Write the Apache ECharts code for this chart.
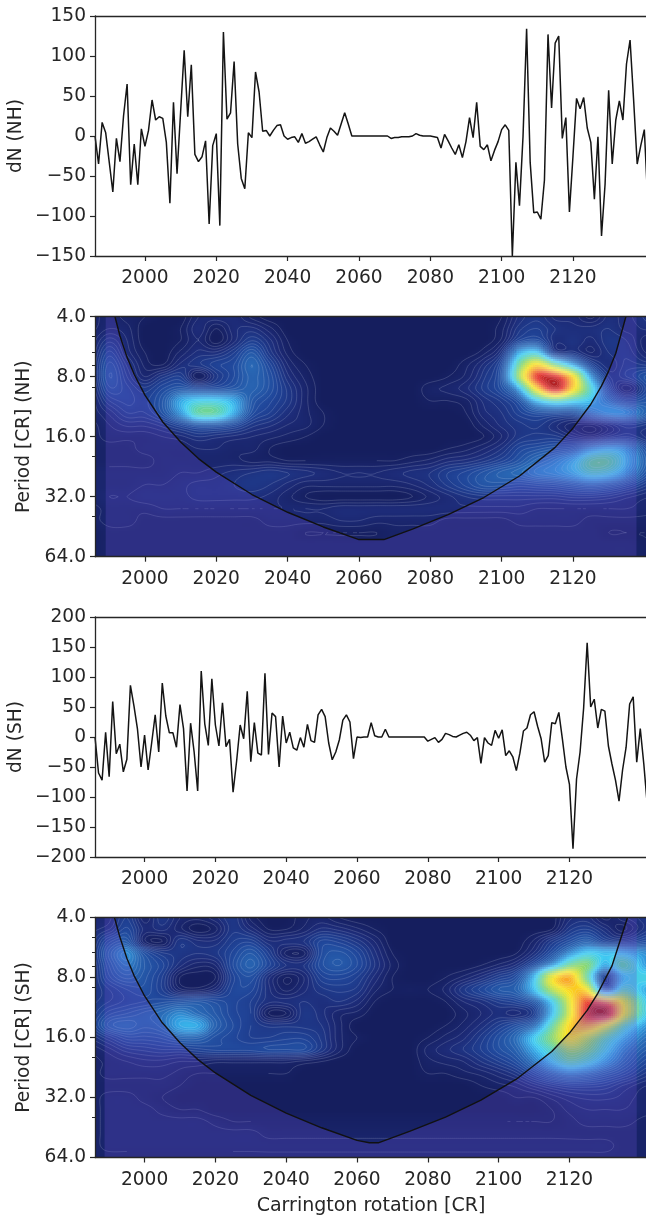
<!DOCTYPE html>
<html>
<head>
<meta charset="utf-8">
<style>html,body{margin:0;padding:0;background:#fff;overflow:hidden}#c{width:646px;height:1215px}</style>
<script src="https://cdn.jsdelivr.net/npm/echarts@6/dist/echarts.min.js"></script>
</head>
<body>
<div id="c"></div>
<script>
// Series values, one per Carrington rotation from 1986
const startCR = 1986;
const dnNH = [0,-35,17,4,-33,-70,-3,-32,25,65,-61,-10,-61,9,-13,7,45,20,24,22,-8,-84,42,-47,30,107,24,89,-23,-32,-26,-6,-110,-12,3,-112,130,21,29,93,-10,-53,-66,4,-2,80,55,6,7,0,7,13,14,0,-4,-2,-1,-8,3,-9,-7,-4,-1,-11,-20,-2,10,6,1,15,29,15,0,0,0,0,0,0,0,0,0,0,0,-3,-2,-2,-1,-1,-1,0,3,1,0,0,0,-1,-2,-15,2,-6,-15,-23,-11,-27,-7,23,-2,42,-13,-17,-11,-31,-18,-7,8,14,7,-150,-33,-87,0,134,-33,-96,-95,-104,-55,127,35,116,125,-3,23,-95,-25,47,34,48,10,-8,-79,-1,-125,-60,57,-35,20,44,20,90,120,45,-35,-12,8,-85];
const dnSH = [0,-60,-72,8,-66,59,-28,-12,-58,-37,86,52,13,-50,3,-55,-10,37,-25,90,35,7,7,-17,54,14,-90,23,-25,-90,110,22,-14,97,20,-15,57,-16,-4,-92,-40,20,-3,76,-41,24,-27,-30,106,-29,40,34,-50,35,-10,8,-18,-22,-1,-17,21,-6,-9,37,46,34,-10,-38,-25,-5,28,37,25,-36,0,-1,0,0,24,2,0,0,13,0,0,0,0,0,0,0,0,0,0,0,-7,-4,-1,-9,-4,6,4,1,0,3,6,8,3,-6,-1,-44,-1,-10,-14,11,-2,12,-31,-23,-33,-56,-27,10,15,37,42,18,-3,-42,-31,24,22,41,-3,-50,-79,-186,-70,-25,48,157,50,63,15,46,43,-15,-45,-72,-107,-55,-17,55,67,-42,14,-45,-115];

// Axis ticks
const crTicks = [2000,2020,2040,2060,2080,2100,2120];
const periodTicks = [4,8,16,32,64];
const periodMinorTicks = [5,6,7,9,20,40];

// Wavelet power grid (0-100)
const gridCR = [1985,1990,1995,2000,2005,2010,2015,2020,2025,2030,2035,2040,2045,2050,2055,2060,2065,2070,2075,2080,2085,2090,2095,2100,2105,2110,2115,2120,2125,2130,2135,2142];
const gridPeriod = [4,4.59,5.28,6.06,6.96,8,9.19,10.56,12.13,13.93,16,18.38,21.11,24.25,27.86,32,36.76,42.22,48.5,55.72,64];
const powerNH = [
[2,3,2,1,0,0,4,5,5,2,0,0,0,0,0,0,0,0,0,0,0,0,0,1,6,8,5,5,2,6,5,8],
[2,4,3,0,0,1,5,1,5,6,3,0,0,0,0,0,0,0,0,0,0,0,0,2,8,10,7,6,6,7,5,6],
[3,8,4,0,0,1,4,0,5,10,6,1,0,0,0,0,0,0,0,0,0,0,0,3,12,14,6,7,5,8,7,2],
[4,12,5,1,0,3,6,6,10,16,8,2,0,0,0,0,0,0,0,0,0,0,2,8,28,33,10,8,4,7,8,3],
[5,15,8,2,1,6,8,11,13,19,12,4,1,0,0,0,0,0,0,0,0,2,6,14,42,62,45,28,12,6,9,8],
[5,16,10,4,8,10,1,8,13,18,14,6,2,0,0,0,0,0,0,0,1,3,8,16,48,82,85,62,26,9,10,16],
[4,14,12,9,13,16,14,14,16,18,14,8,3,0,0,0,0,0,0,2,3,5,9,14,28,62,86,62,36,14,3,14],
[3,10,12,11,16,28,33,33,28,16,12,8,3,0,0,0,0,0,0,1,1,2,6,9,15,30,38,34,30,22,14,16],
[3,6,10,10,15,26,40,40,28,14,10,6,3,1,0,0,0,0,0,0,0,1,5,7,11,14,14,14,22,27,26,16],
[2,4,6,6,8,12,16,16,13,8,6,4,3,1,0,0,0,0,0,0,0,0,3,6,8,9,6,3,2,6,10,8],
[2,3,3,3,4,5,7,6,5,4,3,2,1,0,0,0,0,0,0,0,0,0,1,4,8,9,9,6,4,8,10,6],
[2,2,2,3,3,3,4,4,3,3,1,0,0,0,0,0,0,0,0,0,1,2,4,7,12,14,16,18,26,30,26,12],
[2,2,2,2,3,3,3,3,3,2,2,1,1,1,1,1,1,1,2,3,5,6,8,11,15,20,24,30,40,40,30,15],
[3,3,3,3,3,4,4,5,6,7,8,7,6,5,4,4,4,5,6,7,10,12,15,18,20,24,26,30,36,34,26,13],
[3,3,3,4,4,5,6,6,7,8,7,5,3,3,3,3,3,3,4,6,9,12,15,15,14,15,16,18,20,18,14,8],
[3,4,4,5,5,5,6,6,6,6,5,3,1,0,0,0,0,0,1,3,5,7,8,8,8,8,8,9,9,8,6,4],
[2,3,3,3,4,4,4,4,4,4,4,4,4,4,5,5,5,5,5,5,5,5,5,5,5,4,4,4,4,4,4,3],
[2,3,3,2,2,2,2,2,2,2,3,3,3,3,4,4,3,3,3,3,2,2,2,2,3,3,3,3,2,2,2,2],
[1,2,2,2,2,2,2,2,2,2,2,2,1,1,1,1,1,2,2,2,2,2,2,2,2,2,2,2,2,1,1,1],
[1,2,2,2,2,2,2,2,2,2,2,2,2,2,2,2,2,2,2,2,2,2,2,2,2,2,2,2,2,2,2,1],
[1,2,2,2,2,2,2,2,2,2,2,2,2,2,2,2,2,2,2,2,2,2,2,2,2,2,2,2,2,2,2,1]
];
const powerSH = [
[4,5,10,3,8,4,3,5,8,2,0,0,2,3,1,0,0,0,0,0,0,0,0,0,0,0,0,5,6,2,5,8],
[5,7,12,5,6,3,0,2,8,5,1,1,3,6,5,3,1,0,0,0,0,0,0,0,0,0,1,8,10,6,2,8],
[6,14,16,3,1,8,6,6,10,11,6,6,7,12,11,8,4,0,0,0,0,0,0,0,0,3,9,14,18,12,10,14],
[7,18,24,14,9,8,7,8,12,16,10,2,2,13,15,12,6,1,0,0,0,0,0,0,1,6,14,24,32,30,30,24],
[6,16,22,16,12,6,3,4,13,18,12,7,7,14,16,13,7,2,0,0,0,0,1,3,6,14,26,42,45,28,40,26],
[6,14,18,15,10,1,0,1,11,14,6,1,4,11,12,10,5,1,0,0,1,3,6,10,14,30,58,68,42,10,30,34],
[7,10,13,14,10,3,2,5,12,12,6,2,5,8,9,8,3,1,1,1,3,8,12,16,18,30,50,62,60,20,38,28],
[8,10,12,13,14,15,16,14,12,10,6,6,7,6,7,5,1,0,0,0,1,4,6,9,11,16,32,56,80,76,58,32],
[9,14,16,18,20,24,20,16,12,10,1,1,8,6,3,2,0,0,0,0,0,2,4,6,5,10,30,55,84,90,60,32],
[10,18,20,18,20,28,28,18,13,10,8,8,8,7,3,0,0,0,0,0,1,3,6,10,14,20,40,62,70,58,40,25],
[6,10,14,14,15,18,18,14,12,10,10,11,11,8,3,1,0,0,0,1,3,5,9,14,20,32,46,60,52,40,30,20],
[3,5,8,9,10,10,11,12,12,12,13,13,13,8,3,0,0,0,0,3,5,7,10,14,18,28,38,48,44,34,24,16],
[2,3,4,5,5,4,4,3,3,3,3,3,2,1,0,0,0,0,0,2,3,4,7,10,14,22,32,40,36,28,20,12],
[2,3,3,3,3,2,1,1,1,1,1,1,0,0,0,0,0,0,0,1,1,2,3,5,8,14,20,24,22,18,14,8],
[2,2,2,2,2,1,0,0,0,0,0,0,0,0,0,0,0,0,0,0,0,0,1,2,3,6,9,11,11,10,7,4],
[2,3,3,2,1,0,0,0,0,0,0,0,0,0,0,0,0,0,0,0,0,0,0,0,1,1,3,5,6,6,5,3],
[2,3,3,3,2,1,1,0,0,0,0,0,0,0,0,0,0,0,0,0,0,0,0,0,0,0,1,3,4,4,4,3],
[2,3,3,3,3,3,3,2,1,1,1,1,1,1,1,1,1,1,1,1,1,1,1,1,1,1,1,2,3,3,3,2],
[2,3,3,3,3,3,3,3,3,3,2,2,2,2,2,2,2,2,2,2,2,2,2,2,2,2,2,2,2,2,2,2],
[2,3,3,3,3,3,3,3,3,3,3,3,3,3,3,3,3,3,3,3,3,3,3,3,3,3,3,3,3,3,2,2],
[2,2,2,2,2,2,2,2,2,2,2,2,2,2,2,2,2,2,2,2,2,2,2,2,2,2,2,2,2,2,2,2]
];

// Cone of influence
const coiCR_NH = [1991.6,1993,1995,1997,2000,2005,2010,2015,2020,2030,2040,2050,2060,2067,2075,2085,2095,2105,2115,2120,2125,2128,2130,2132,2135];
const coiPeriod_NH = [4,5,6.4,7.8,9.9,13.5,17,20.6,24.1,31.2,38.3,45.4,52.5,52.5,46.5,39.4,32.3,25.2,18.1,14.5,11,8.9,7.5,6.1,3.9];
const coiCR_SH = [1991.5,1993,1995,1997,2000,2005,2010,2015,2020,2030,2040,2050,2060,2063.5,2066,2075,2085,2095,2105,2115,2120,2125,2128,2130,2132,2136.4];
const coiPeriod_SH = [4,5,6.4,7.8,9.9,13.5,17,20.6,24.1,31.2,38.3,45.4,52.5,54,54,47.2,40.1,33,25.9,18.8,15.2,11.7,9.6,8.2,7,4];
const shadeCR_NH = [1989,2137.8];
const shadeCR_SH = [1988.7,2139];

// Colour ramp: [power, r, g, b]
const colorRamp = [[0,21,30,94],[5,29,43,120],[12,32,70,154],[20,42,108,184],[27,50,160,226],[32,66,205,243],[38,84,210,190],[45,130,215,120],[53,200,225,60],[60,251,228,30],[70,250,160,40],[82,232,52,44],[92,170,30,35],[100,100,28,30]];
const contourStep = 1.5;

const TEXT = '#262626', FS = 18.6, FONT = 'DejaVu Sans';

function rampColor(v){
  for(let i=1;i<colorRamp.length;i++){
    if(v<=colorRamp[i][0]){
      const a=colorRamp[i-1],b=colorRamp[i],t=(v-a[0])/(b[0]-a[0]);
      return 'rgb('+Math.round(a[1]+(b[1]-a[1])*t)+','+Math.round(a[2]+(b[2]-a[2])*t)+','+Math.round(a[3]+(b[3]-a[3])*t)+')';
    }
  }
  const l=colorRamp[colorRamp.length-1];
  return 'rgb('+l[1]+','+l[2]+','+l[3]+')';
}
function cubic(p0,p1,p2,p3,t){
  return p1+0.5*t*(p2-p0+t*(2*p0-5*p1+4*p2-p3+t*(3*(p1-p2)+p3-p0)));
}
function sample(m,r,c,tr,tc){
  const R=m.length-1,C=m[0].length-1;
  const row=i=>m[Math.max(0,Math.min(R,i))];
  const col=i=>Math.max(0,Math.min(C,i));
  const vals=[-1,0,1,2].map(dr=>{const a=row(r+dr);return cubic(a[col(c-1)],a[col(c)],a[col(c+1)],a[col(c+2)],tc);});
  return Math.max(0,Math.min(100,cubic(vals[0],vals[1],vals[2],vals[3],tr)));
}
const SUBX=9,SUBY=6;
function heatRender(matrix){
  return function(params,api){
    const c=api.value(3),r=api.value(4);
    const x0=gridCR[c],x1=gridCR[c+1];
    const lp0=Math.log2(gridPeriod[r]),lp1=Math.log2(gridPeriod[r+1]);
    const pts=[],vals=[];
    for(let j=0;j<=SUBY;j++){
      pts.push([]);vals.push([]);
      for(let i=0;i<=SUBX;i++){
        pts[j].push(api.coord([x0+(x1-x0)*i/SUBX,Math.pow(2,lp0+(lp1-lp0)*j/SUBY)]));
        vals[j].push(sample(matrix,r,c,j/SUBY,i/SUBX));
      }
    }
    const children=[];
    let path='';
    for(let j=0;j<SUBY;j++)for(let i=0;i<SUBX;i++){
      const a=pts[j][i],b=pts[j+1][i+1];
      const q=[vals[j][i],vals[j][i+1],vals[j+1][i+1],vals[j+1][i]];
      const rx=Math.round(a[0]),ry=Math.round(a[1]);
      children.push({type:'rect',shape:{x:rx,y:ry,width:Math.round(b[0])-rx,height:Math.round(b[1])-ry},
        style:{fill:rampColor((q[0]+q[1]+q[2]+q[3])/4)},silent:true});
      const mn=Math.min(...q),mx=Math.max(...q);
      for(let lv=Math.ceil((mn-1)/contourStep)*contourStep+1;lv<mx;lv+=contourStep){
        if(lv<mn)continue;
        const corners=[[a[0],a[1]],[b[0],a[1]],[b[0],b[1]],[a[0],b[1]]],hits=[];
        for(let k=0;k<4;k++){
          const u=q[k],w=q[(k+1)%4];
          if((u<lv)!==(w<lv)){
            const t=(lv-u)/(w-u),p=corners[k],s=corners[(k+1)%4];
            hits.push([p[0]+(s[0]-p[0])*t,p[1]+(s[1]-p[1])*t]);
          }
        }
        for(let k=0;k+1<hits.length;k+=2){
          path+='M'+hits[k][0].toFixed(2)+' '+hits[k][1].toFixed(2)+'L'+hits[k+1][0].toFixed(2)+' '+hits[k+1][1].toFixed(2);
        }
      }
    }
    if(path)children.push({type:'path',shape:{pathData:path,layout:'none'},z2:5,
      style:{fill:null,stroke:'rgba(235,240,255,0.28)',lineWidth:0.6},silent:true});
    return {type:'group',children:children,silent:true};
  };
}
function shadeRender(coiCR,coiP,edges){
  return function(params,api){
    const poly=[];
    poly.push(api.coord([edges[0],4]));
    coiCR.forEach((x,i)=>poly.push(api.coord([x,coiP[i]])));
    poly.push(api.coord([edges[1],4]));
    poly.push(api.coord([edges[1],64]));
    poly.push(api.coord([edges[0],64]));
    return {type:'polygon',shape:{points:poly},style:{fill:'rgba(100,80,205,0.28)'},silent:true};
  };
}
function cells(m){
  const out=[];
  for(let r=0;r<m.length-1;r++)for(let c=0;c<m[0].length-1;c++)out.push([gridCR[c],gridPeriod[r],m[r][c],c,r]);
  return out;
}
const pairs=(xs,ys)=>xs.map((x,i)=>[x,ys[i]]);
const lineData=ys=>ys.map((y,i)=>[startCR+i,y]);

const panels=[
 {top:16,max:2140.75,kind:'line',name:'dN (NH)',data:dnNH,ymin:-150,ymax:150},
 {top:316.7,max:2140.75,kind:'heat',name:'Period [CR] (NH)',m:powerNH,cx:coiCR_NH,cp:coiPeriod_NH,edges:shadeCR_NH},
 {top:617,max:2141.9,kind:'line',name:'dN (SH)',data:dnSH,ymin:-200,ymax:200},
 {top:917.5,max:2141.9,kind:'heat',name:'Period [CR] (SH)',m:powerSH,cx:coiCR_SH,cp:coiPeriod_SH,edges:shadeCR_SH,last:true}
];
const grid=[],xAxis=[],yAxis=[],series=[];
const spine={show:true,lineStyle:{color:TEXT,width:1.3}};
panels.forEach((p,i)=>{
  grid.push({left:95,top:p.top,width:552,height:240,containLabel:false,outerBoundsMode:'none'});
  const xi=xAxis.length, yi=yAxis.length;
  xAxis.push({type:'value',gridIndex:i,min:startCR,max:p.max,position:'bottom',z:10,splitLine:{show:false},axisLine:Object.assign({onZero:false},spine),
    axisTick:{show:true,length:5,inside:false,lineStyle:{color:TEXT,width:1.2},customValues:crTicks},
    axisLabel:{show:true,color:TEXT,fontSize:FS,fontFamily:FONT,margin:13,customValues:crTicks,formatter:v=>String(v),hideOverlap:false},
    name:p.last?'Carrington rotation [CR]':'',nameLocation:'middle',nameGap:39,nameMoveOverlap:false,nameTextStyle:{color:TEXT,fontSize:19,fontFamily:FONT}});
  xAxis.push({type:'value',gridIndex:i,min:startCR,max:p.max,position:'top',z:10,splitLine:{show:false},axisLine:Object.assign({onZero:false},spine),axisTick:{show:false},axisLabel:{show:false}});
  if(p.kind==='line'){
    yAxis.push({type:'value',gridIndex:i,min:p.ymin,max:p.ymax,interval:50,z:10,splitLine:{show:false},axisLine:Object.assign({onZero:false},spine),
      axisTick:{show:true,length:5,lineStyle:{color:TEXT,width:1.2}},
      axisLabel:{color:TEXT,fontSize:FS,fontFamily:FONT,margin:9,formatter:v=>v<0?'\u2212'+Math.abs(v):String(v),showMinLabel:true,showMaxLabel:true},
      name:p.name,nameLocation:'middle',nameGap:69,nameMoveOverlap:false,nameRotate:90,nameTextStyle:{color:TEXT,fontSize:FS,fontFamily:FONT}});
    series.push({type:'line',xAxisIndex:xi,yAxisIndex:yi,data:lineData(p.data),showSymbol:false,symbol:'none',animation:false,silent:true,clip:true,
      lineStyle:{color:'#141414',width:1.5},z:3});
  } else {
    yAxis.push({type:'log',logBase:2,gridIndex:i,min:4,max:64,inverse:true,z:10,splitLine:{show:false},axisLine:Object.assign({onZero:false},spine),
      axisTick:{show:true,length:5,lineStyle:{color:TEXT,width:1.2},customValues:periodTicks},
      axisLabel:{color:TEXT,fontSize:FS,fontFamily:FONT,margin:9,customValues:periodTicks,formatter:v=>Number(v).toFixed(1)},
      name:p.name,nameLocation:'middle',nameGap:61,nameMoveOverlap:false,nameRotate:90,nameTextStyle:{color:TEXT,fontSize:FS,fontFamily:FONT}});
    yAxis.push({type:'log',logBase:2,gridIndex:i,min:4,max:64,inverse:true,z:10,position:'left',splitLine:{show:false},axisLine:{show:false,onZero:false},
      axisTick:{show:true,length:3,lineStyle:{color:TEXT,width:1},customValues:periodMinorTicks},axisLabel:{show:false}});
    series.push({type:'custom',xAxisIndex:xi,yAxisIndex:yi,coordinateSystem:'cartesian2d',clip:true,animation:false,silent:true,z:1,
      data:cells(p.m),encode:{x:0,y:1},renderItem:heatRender(p.m)});
    series.push({type:'custom',xAxisIndex:xi,yAxisIndex:yi,coordinateSystem:'cartesian2d',clip:true,animation:false,silent:true,z:2,
      data:[[p.edges[0],4]],encode:{x:0,y:1},renderItem:shadeRender(p.cx,p.cp,p.edges)});
    series.push({type:'line',xAxisIndex:xi,yAxisIndex:yi,data:pairs(p.cx,p.cp),showSymbol:false,symbol:'none',animation:false,silent:true,clip:true,
      lineStyle:{color:'#111',width:1.4},z:3});
  }
});
const chart=echarts.init(document.getElementById('c'),null,{renderer:'canvas',width:646,height:1215});
chart.setOption({animation:false,backgroundColor:'#fff',tooltip:{show:false},grid,xAxis,yAxis,series});
</script>
</body>
</html>
